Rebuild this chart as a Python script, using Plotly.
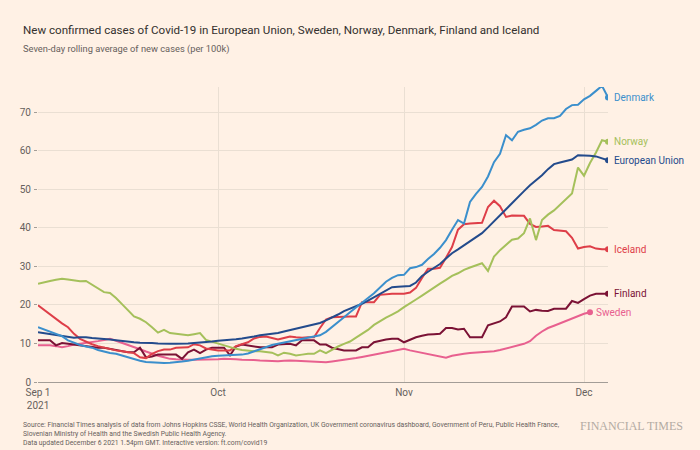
import pandas as pd
import plotly.graph_objects as go

start = "2021-09-01"
dates = pd.date_range(start, periods=96, freq="D")

denmark = [14.2, 13.6, 12.9, 12.5, 11.9, 10.8, 10.1, 9.6, 9.2, 8.9, 8.3, 7.8, 7.5, 7.3, 6.8, 6.4, 6.0, 5.5, 5.2, 5.1,
           5.0, 4.9, 5.0, 5.1, 5.3, 5.5, 5.8, 6.0, 6.4, 6.7, 6.8, 6.9, 6.9, 7.0, 7.1, 7.4, 8.0, 8.6, 9.2, 9.6,
           9.9, 10.2, 10.6, 10.9, 11.1, 11.4, 11.7, 12.1, 13.0, 14.2, 15.6, 16.8, 18.1, 19.4, 20.6, 21.8, 23.0, 24.6, 26.0, 27.0,
           27.7, 27.8, 29.5, 29.8, 30.4, 31.9, 33.2, 34.8, 36.8, 39.5, 42.0, 41.1, 46.7, 48.8, 50.6, 53.3, 57.0, 59.2, 64.0, 62.7,
           64.9, 65.4, 65.8, 66.7, 67.8, 68.4, 68.4, 69.0, 70.8, 71.8, 71.9, 73.3, 74.2, 75.5, 76.8, 73.8]

norway = [25.5, 25.9, 26.2, 26.5, 26.8, 26.6, 26.3, 26.1, 26.2, 25.3, 24.4, 23.3, 23.1, 21.8, 20.2, 18.6, 17.0, 16.4, 15.5, 14.2,
          12.8, 13.5, 12.7, 12.5, 12.3, 12.1, 12.4, 12.7, 10.9, 10.4, 10.0, 9.5, 9.0, 8.6, 8.3, 8.1, 8.0, 8.0, 7.8, 7.6,
          6.9, 7.6, 7.3, 6.9, 7.1, 7.3, 7.3, 8.2, 7.5, 8.4, 9.2, 9.9, 10.5, 11.5, 12.4, 13.5, 14.8, 15.8, 16.7, 17.5,
          18.3, 19.4, 20.3, 21.4, 22.4, 23.5, 24.5, 25.5, 26.5, 27.5, 28.2, 29.1, 29.7, 30.2, 30.8, 28.8, 32.5, 34.2, 35.6, 36.9,
          37.2, 38.6, 42.4, 36.8, 42.0, 43.4, 44.5, 45.9, 47.3, 48.9, 55.6, 53.5, 56.8, 59.5, 62.7, 62.3]

eu = [12.9, 12.7, 12.5, 12.3, 12.1, 11.8, 11.5, 11.6, 11.6, 11.4, 11.3, 11.1, 11.0, 10.8, 10.6, 10.4, 10.3, 10.2, 10.2, 10.1,
      10.0, 9.9, 9.9, 9.9, 9.9, 10.0, 10.1, 10.2, 10.3, 10.5, 10.7, 10.8, 11.0, 11.1, 11.3, 11.5, 11.8, 12.1, 12.3, 12.5,
      12.7, 13.1, 13.5, 13.9, 14.3, 14.6, 15.0, 15.3, 16.0, 16.7, 17.5, 18.4, 19.0, 19.6, 20.3, 21.1, 22.0, 22.9, 23.8, 24.6,
      24.7, 24.8, 24.9, 25.8, 27.5, 28.6, 29.5, 30.6, 32.0, 33.4, 34.4, 35.5, 36.6, 37.5, 38.6, 40.1, 41.7, 43.2, 44.7, 46.3,
      47.9, 49.5, 51.0, 52.3, 53.6, 55.2, 56.5, 56.9, 57.3, 57.7, 58.8, 58.8, 58.7, 58.5, 58.0, 57.5]

iceland = [19.9, 18.7, 17.5, 16.3, 15.2, 14.2, 12.5, 11.2, 10.4, 9.8, 9.3, 8.9, 8.4, 8.2, 8.0, 7.8, 7.5, 6.4, 6.2, 7.3,
           8.0, 8.4, 8.4, 8.9, 8.9, 9.0, 9.8, 9.5, 8.7, 8.4, 8.2, 8.2, 8.2, 9.3, 9.7, 10.3, 11.3, 11.7, 11.8, 11.4,
           11.0, 11.4, 11.8, 11.6, 11.5, 11.6, 11.6, 14.0, 16.2, 16.8, 16.9, 17.0, 17.0, 17.0, 20.7, 20.7, 20.7, 22.6, 22.8, 22.9,
           22.9, 22.9, 23.2, 24.4, 27.0, 29.4, 29.4, 29.6, 32.2, 35.0, 39.5, 40.9, 41.1, 41.2, 41.3, 45.4, 47.0, 45.6, 42.8, 43.2,
           43.2, 43.1, 41.0, 40.2, 40.3, 40.5, 39.4, 39.3, 39.1, 37.4, 34.6, 35.0, 35.2, 34.6, 34.4, 34.4]

finland = [10.8, 10.8, 10.8, 9.5, 10.1, 9.9, 9.7, 9.5, 9.3, 9.1, 8.9, 8.9, 8.6, 8.3, 8.0, 7.7, 7.7, 8.9, 6.4, 6.6,
           7.1, 7.1, 7.1, 7.1, 6.0, 7.7, 8.4, 7.5, 8.4, 8.9, 8.9, 8.9, 6.9, 9.2, 9.7, 9.5, 9.2, 9.0, 9.0, 9.0,
           9.7, 9.8, 9.9, 9.5, 10.8, 10.8, 10.8, 9.7, 9.7, 8.9, 8.6, 8.2, 8.2, 8.2, 9.0, 9.0, 10.3, 10.7, 11.0, 11.2,
           11.2, 10.3, 11.0, 11.6, 12.0, 12.3, 12.4, 12.5, 14.0, 14.0, 13.6, 13.8, 11.6, 11.6, 11.6, 14.7, 15.1, 15.7, 16.8, 19.6,
           19.6, 19.6, 18.3, 18.7, 18.5, 18.4, 19.0, 19.0, 19.0, 21.0, 20.5, 21.5, 22.4, 22.9, 22.9, 22.9]

sweden = [9.5, 9.5, 9.5, 9.3, 9.0, 9.3, 9.7, 9.9, 10.1, 10.4, 10.6, 10.9, 11.2, 10.7, 10.2, 9.6, 9.1, 8.5, 7.9, 7.3,
          6.8, 6.4, 6.0, 5.9, 5.8, 5.8, 5.8, 5.8, 5.8, 5.8, 5.9, 6.0, 6.0, 5.9, 5.8, 5.8, 5.7, 5.6, 5.5, 5.4,
          5.4, 5.5, 5.6, 5.5, 5.4, 5.3, 5.2, 5.1, 5.1, 5.3, 5.5, 5.7, 5.9, 6.2, 6.5, 6.8, 7.2, 7.5, 7.8, 8.1,
          8.4, 8.6, 8.2, 7.9, 7.6, 7.2, 6.9, 6.6, 6.3, 6.8, 7.1, 7.3, 7.5, 7.6, 7.7, 7.8, 8.0, 8.3, 8.7, 9.1,
          9.5, 9.9, 10.6, 12.0, 13.1, 14.0, 14.6, 15.2, 15.8, 16.5, 17.2, 17.7, 18.1]

series = [
    ("Sweden", sweden, "#e8608f"),
    ("Finland", finland, "#7b1235"),
    ("Iceland", iceland, "#de3e48"),
    ("Norway", norway, "#a5c05b"),
    ("European Union", eu, "#234b8c"),
    ("Denmark", denmark, "#3b8fcc"),
]

tick_vals = ["2021-09-01", "2021-10-01", "2021-11-01", "2021-12-01"]
tick_text = ["Sep 1<br>2021", "Oct", "Nov", "Dec"]
y_ticks = [0, 10, 20, 30, 40, 50, 60, 70]

BG = "#fff1e5"
FONT = "Roboto"
LEFT_PX = 21
PLOT_L, PLOT_W, PLOT_T, PLOT_H = 38, 570, 87, 295

def px_x(px):
    return (px - PLOT_L) / PLOT_W

def px_y(py):
    return 1 - (py - PLOT_T) / PLOT_H

fig = go.Figure()
for name, vals, col in series:
    x = dates[:len(vals)]
    fig.add_trace(go.Scatter(x=x, y=vals, mode="lines", line=dict(color=col, width=2),
                             name=name, hoverinfo="skip", showlegend=False))
    fig.add_trace(go.Scatter(x=[x[-1]], y=[vals[-1]], mode="markers",
                             marker=dict(color=col, size=6), hoverinfo="skip", showlegend=False))
    fig.add_annotation(x=x[-1], y=vals[-1], text=name, showarrow=False, xanchor="left",
                       yanchor="middle", xshift=4, font=dict(family=FONT, size=10, color=col))

fig.update_layout(
    width=700, height=450,
    paper_bgcolor=BG, plot_bgcolor=BG,
    margin=dict(l=PLOT_L, r=700 - PLOT_L - PLOT_W, t=PLOT_T, b=450 - PLOT_T - PLOT_H),
    font=dict(family=FONT, color="#66605c"),
    xaxis=dict(range=["2021-09-01", "2021-12-05"], tickvals=tick_vals, ticktext=tick_text,
               showgrid=True, gridcolor="#eadfd3", gridwidth=1, zeroline=False,
               showline=False, ticks="", ticklabelstandoff=3, tickfont=dict(size=10, color="#66605c")),
    yaxis=dict(range=[0, 76.5], tickvals=y_ticks, showgrid=True, gridcolor="#eadfd3", gridwidth=1,
               zeroline=True, zerolinecolor="#a39d97", zerolinewidth=1.2, showline=False,
               ticks="outside", ticklen=3, tickcolor="#a39d97", ticklabelstandoff=1,
               tickfont=dict(size=10, color="#66605c")),
)

fig.add_annotation(xref="paper", yref="paper", x=px_x(LEFT_PX), y=px_y(30), xanchor="left", yanchor="middle",
                   text="New confirmed cases of Covid-19 in European Union, Sweden, Norway, Denmark, Finland and Iceland",
                   showarrow=False, font=dict(family=FONT, size=11.6, color="#33302e"))
fig.add_annotation(xref="paper", yref="paper", x=px_x(LEFT_PX), y=px_y(49), xanchor="left", yanchor="middle",
                   text="Seven-day rolling average of new cases (per 100k)",
                   showarrow=False, font=dict(family=FONT, size=9.3, color="#66605c"))
fig.add_annotation(xref="paper", yref="paper", x=px_x(LEFT_PX), y=px_y(433.5), xanchor="left", yanchor="middle",
                   align="left",
                   text=("Source: Financial Times analysis of data from Johns Hopkins CSSE, World Health Organization, UK Government coronavirus dashboard, Government of Peru, Public Health France,<br>"
                         "Slovenian Ministry of Health and the Swedish Public Health Agency.<br>"
                         "Data updated December 6 2021 1.54pm GMT. Interactive version: ft.com/covid19"),
                   showarrow=False, font=dict(family=FONT, size=6.8, color="#66605c"))
fig.add_annotation(xref="paper", yref="paper", x=px_x(685), y=px_y(426), xanchor="right", yanchor="middle",
                   text="FINANCIAL TIMES", showarrow=False,
                   font=dict(family="Liberation Serif", size=12, color="#b3aba3"))

fig.write_html("out.html")
